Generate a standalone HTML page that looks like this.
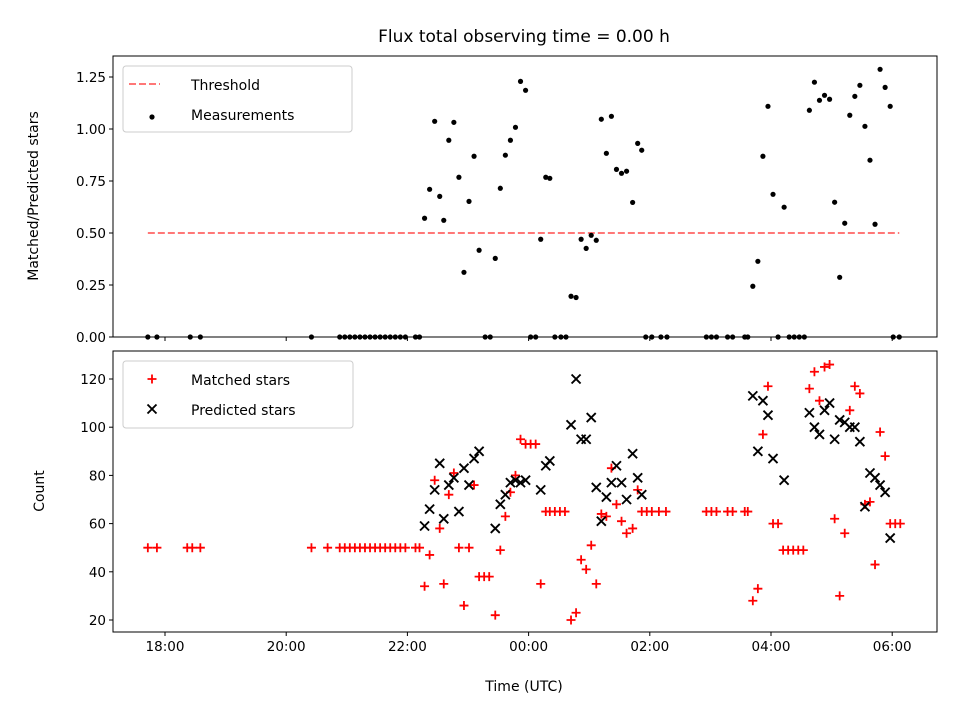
<!DOCTYPE html>
<html><head><meta charset="utf-8"><style>
body{margin:0;background:#fff;}
svg{display:block;font-family:"DejaVu Sans","Liberation Sans",sans-serif;}
</style></head><body>
<svg id="c" width="960" height="720" viewBox="0 0 960 720" xmlns="http://www.w3.org/2000/svg"></svg>
<script>
// minutes after 18:00 UTC
const ratioTimes=[-17,-8,25,35,145,173,178,183,188,193,198,203,208,213,218,223,228,233,238,248,252,257,262,267,272,276,281,286,291,296,301,306,311,317,322,327,332,337,342,347,352,357,362,367,372,377,381,386,392,397,402,407,412,417,422,427,432,437,442,447,452,457,463,468,472,476,482,491,497,536,541,546,557,562,574,577,582,587,592,597,602,607,613,618,623,628,633,638,643,648,653,658,663,668,673,678,683,688,693,698,703,708,713,718,721,727];
const ratioValues=[0,0,0,0,0,0,0,0,0,0,0,0,0,0,0,0,0,0,0,0,0,0.571,0.71,1.037,0.676,0.561,0.946,1.032,0.768,0.311,0.652,0.869,0.417,0,0,0.378,0.715,0.874,0.946,1.008,1.229,1.186,0,0,0.47,0.768,0.763,0,0,0,0.196,0.19,0.47,0.426,0.489,0.465,1.047,0.883,1.061,0.806,0.787,0.797,0.647,0.931,0.898,0,0,0,0,0,0,0,0,0,0,0,0.244,0.364,0.869,1.109,0.686,0,0.624,0,0,0,0,1.09,1.225,1.138,1.162,1.143,0.648,0.287,0.547,1.066,1.157,1.21,1.013,0.85,0.542,1.287,1.2,1.109,0,0];
const matchedTimes=[-17,-8,22,27,35,145,161,173,178,183,188,193,198,203,208,213,218,223,228,233,238,248,252,257,262,267,272,276,281,286,291,296,301,306,311,316,321,327,332,337,342,347,352,357,362,367,372,377,381,386,391,396,402,407,412,417,422,427,432,437,442,447,452,457,463,468,472,477,482,489,496,536,541,546,557,562,574,577,582,587,592,597,602,607,612,617,622,627,632,638,643,648,653,658,663,668,673,678,683,688,693,698,703,708,713,718,723,728];
const matchedValues=[50,50,50,50,50,50,50,50,50,50,50,50,50,50,50,50,50,50,50,50,50,50,50,34,47,78,58,35,72,81,50,26,50,76,38,38,38,22,49,63,73,80,95,93,93,93,35,65,65,65,65,65,20,23,45,41,51,35,64,63,83,68,61,56,58,74,65,65,65,65,65,65,65,65,65,65,65,65,28,33,97,117,60,60,49,49,49,49,49,116,123,111,125,126,62,30,56,107,117,114,68,69,43,98,88,60,60,60];
const predictedTimes=[257,262,267,272,276,281,286,291,296,301,306,311,327,332,337,342,347,352,357,372,377,381,402,407,412,417,422,427,432,437,442,447,452,457,463,468,472,582,587,592,597,602,613,638,643,648,653,658,663,668,673,678,683,688,693,698,703,708,713,718];
const predictedValues=[59,66,74,85,62,76,79,65,83,76,87,90,58,68,72,77,78,77,78,74,84,86,101,120,95,95,104,75,61,71,77,84,77,70,89,79,72,113,90,111,105,87,78,106,100,97,107,110,95,103,102,100,100,94,67,81,79,76,73,54];
const xTickLabels=["18:00","20:00","22:00","00:00","02:00","04:00","06:00"];
const xTickMinutes=[0,120,240,360,480,600,720];
const ratioTicks=[0,0.25,0.5,0.75,1.0,1.25];
const countTicks=[20,40,60,80,100,120];
const threshold=0.5;

const NS="http://www.w3.org/2000/svg";
const svg=document.getElementById('c');
function mk(tag,attrs,parent){const e=document.createElementNS(NS,tag);for(const k in attrs)e.setAttribute(k,attrs[k]);(parent||svg).appendChild(e);return e;}
const L=113,R=937;
const T1=56,B1=337,T2=351,B2=632;
const xs=m=>165+m*60.6/60;
const y1=v=>337-v*208;
const y2=v=>379+(120-v)*2.41;

// frames
const f1=mk('rect',{x:L,y:T1,width:R-L,height:B1-T1,fill:'none',stroke:'#000','stroke-width':1});


const f2=mk('rect',{x:L,y:T2,width:R-L,height:B2-T2,fill:'none',stroke:'#000','stroke-width':1});



// x ticks
xTickMinutes.forEach((m,i)=>{
  const x=xs(m);
  mk('line',{x1:x,x2:x,y1:B1,y2:B1+4,stroke:'#000'});
  mk('line',{x1:x,x2:x,y1:B2,y2:B2+4,stroke:'#000'});
  const t=mk('text',{x:x,y:B2+19,'font-size':13.5,'text-anchor':'middle'});
  t.textContent=xTickLabels[i];
  
  
});
ratioTicks.forEach(v=>{
  const y=y1(v);
  mk('line',{x1:L-4,x2:L,y1:y,y2:y,stroke:'#000'});
  const t=mk('text',{x:L-7,y:y+5,'font-size':13.5,'text-anchor':'end'});
  t.textContent=v.toFixed(2);
  
  
});
countTicks.forEach(v=>{
  const y=y2(v);
  mk('line',{x1:L-4,x2:L,y1:y,y2:y,stroke:'#000'});
  const t=mk('text',{x:L-7,y:y+5,'font-size':13.5,'text-anchor':'end'});
  t.textContent=v;
  
  
});

// threshold
const th=mk('line',{x1:xs(-17),x2:xs(727),y1:y1(threshold),y2:y1(threshold),stroke:'#ff7777','stroke-width':2,'stroke-dasharray':'7,3'});



ratioTimes.forEach((m,i)=>{
  const c=mk('circle',{cx:xs(m),cy:y1(ratioValues[i]),r:2.6,fill:'#000'});
  
  
});
matchedTimes.forEach((m,i)=>{
  const x=xs(m),y=y2(matchedValues[i]);
  const p=mk('path',{d:`M${x-4.5},${y}H${x+4.5}M${x},${y-4.5}V${y+4.5}`,stroke:'#ff0000','stroke-width':1.8,fill:'none'});
  
  
});
predictedTimes.forEach((m,i)=>{
  const x=xs(m),y=y2(predictedValues[i]);
  const p=mk('path',{d:`M${x-4.5},${y-4.5}L${x+4.5},${y+4.5}M${x-4.5},${y+4.5}L${x+4.5},${y-4.5}`,stroke:'#000','stroke-width':1.9,fill:'none'});
  
  
});
</script>
<svg width="960" height="720" style="position:absolute;left:0;top:0" xmlns="http://www.w3.org/2000/svg" font-family="DejaVu Sans, Liberation Sans, sans-serif">
  <text x="524" y="42" font-size="17" text-anchor="middle">Flux total observing time = 0.00 h</text>
  <text x="0" y="0" font-size="14" text-anchor="middle" transform="translate(38,196) rotate(-90)">Matched/Predicted stars</text>
  <text x="0" y="0" font-size="14" text-anchor="middle" transform="translate(44,491) rotate(-90)">Count</text>
  <text x="524" y="691" font-size="14" text-anchor="middle">Time (UTC)</text>
  <g>
    <rect x="123" y="66" width="229" height="66" rx="3" fill="#fff" fill-opacity="0.8" stroke="#ccc"/>
    <line x1="129" x2="160" y1="84" y2="84" stroke="#ff7777" stroke-width="2" stroke-dasharray="7,3"/>
    <text x="191" y="90" font-size="14">Threshold</text>
    <circle cx="152" cy="117" r="2.6" fill="#000"/>
    <text x="191" y="120" font-size="14">Measurements</text>
  </g>
  <g>
    <rect x="123" y="361" width="230" height="67" rx="3" fill="#fff" fill-opacity="0.8" stroke="#ccc"/>
    <path d="M147.5,379H156.5M152,374.5V383.5" stroke="#ff0000" stroke-width="1.8"/>
    <text x="191" y="385" font-size="14">Matched stars</text>
    <path d="M147.5,404.5L156.5,413.5M147.5,413.5L156.5,404.5" stroke="#000" stroke-width="1.9"/>
    <text x="191" y="415" font-size="14">Predicted stars</text>
  </g>
</svg>
</body></html>
